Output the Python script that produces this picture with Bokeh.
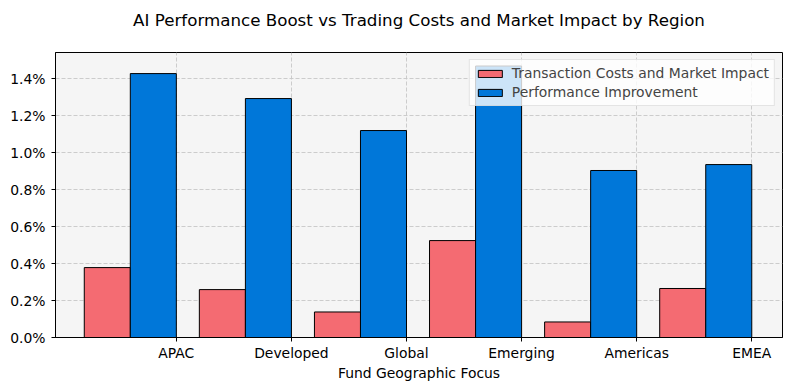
from bokeh.plotting import figure
from bokeh.models import ColumnDataSource, FixedTicker, PrintfTickFormatter, Range1d, Legend, LegendItem, Title
from bokeh.embed import file_html
from bokeh.resources import INLINE

title_text = "AI Performance Boost vs Trading Costs and Market Impact by Region"
regions = ["APAC", "Developed", "Global", "Emerging", "Americas", "EMEA"]
transaction_costs = [0.378, 0.259, 0.138, 0.524, 0.084, 0.265]
performance_improvement = [1.427, 1.292, 1.119, 1.468, 0.903, 0.935]
y_ticks = [0.0, 0.2, 0.4, 0.6, 0.8, 1.0, 1.2, 1.4]

bar_w = 0.4
idx = list(range(len(regions)))
src_cost = ColumnDataSource(dict(x=[i - bar_w / 2 for i in idx], top=transaction_costs))
src_perf = ColumnDataSource(dict(x=[i + bar_w / 2 for i in idx], top=performance_improvement))

FONT = "DejaVu Sans"

p = figure(width=790, height=390, output_backend="svg", toolbar_location=None,
           title_location=None,
           x_range=Range1d(-0.65, 5.667), y_range=Range1d(0, 1.541),
           min_border_left=55, min_border_right=8, min_border_top=52, min_border_bottom=53)

p.background_fill_color = "#f5f5f5"
p.border_fill_color = "white"
p.outline_line_color = "black"
p.outline_line_width = 1

# spacer between frame and title, then the title itself
p.add_layout(Title(text=" ", text_font_size="1px", standoff=12), "above")
p.add_layout(Title(text=title_text, align="center", vertical_align="middle", standoff=14,
                   text_font=FONT, text_font_size="16.7px", text_font_style="normal",
                   text_color="black"), "above")

r1 = p.vbar(x="x", top="top", width=bar_w, source=src_cost, fill_color="#f46b72",
            line_color="black", line_width=1)
r2 = p.vbar(x="x", top="top", width=bar_w, source=src_perf, fill_color="#0077d9",
            line_color="black", line_width=1)

xt = [i + bar_w for i in idx]
p.xaxis.ticker = FixedTicker(ticks=xt)
p.xaxis.major_label_overrides = {t: r for t, r in zip(xt, regions)}
p.yaxis.ticker = FixedTicker(ticks=y_ticks)
p.yaxis.formatter = PrintfTickFormatter(format="%.1f%%")
p.xaxis.axis_label = "Fund Geographic Focus"

for ax in (p.xaxis, p.yaxis):
    ax.major_label_text_font = FONT
    ax.major_label_text_font_size = "13.9px"
    ax.major_label_text_color = "black"
    ax.axis_label_text_font = FONT
    ax.axis_label_text_font_size = "13.9px"
    ax.axis_label_text_font_style = "normal"
    ax.axis_label_text_color = "black"
    ax.axis_line_color = "black"
    ax.major_tick_line_color = "black"
    ax.major_tick_out = 4
    ax.major_tick_in = 0
    ax.minor_tick_line_color = None
p.xaxis.major_label_standoff = 3
p.yaxis.major_label_standoff = 6
p.xaxis.axis_label_standoff = 1

p.xgrid.ticker = FixedTicker(ticks=xt)
p.ygrid.ticker = FixedTicker(ticks=y_ticks)
for g in (p.xgrid, p.ygrid):
    g.grid_line_color = "#c8c8c8"
    g.grid_line_dash = "4 2"
    g.grid_line_width = 1
    g.grid_line_alpha = 0.9

legend = Legend(items=[LegendItem(label="Transaction Costs and Market Impact", renderers=[r1]),
                       LegendItem(label="Performance Improvement", renderers=[r2])],
                location="top_right")
legend.margin = 7
legend.padding = 5
legend.spacing = 3
legend.label_height = 16
legend.glyph_height = 9
legend.glyph_width = 30
legend.label_standoff = 7
legend.label_text_font = FONT
legend.label_text_font_size = "13.9px"
legend.background_fill_color = "white"
legend.background_fill_alpha = 0.8
legend.border_line_color = "#cccccc"
legend.border_line_width = 1
p.add_layout(legend)

open("out.html", "w").write(file_html(p, INLINE))
